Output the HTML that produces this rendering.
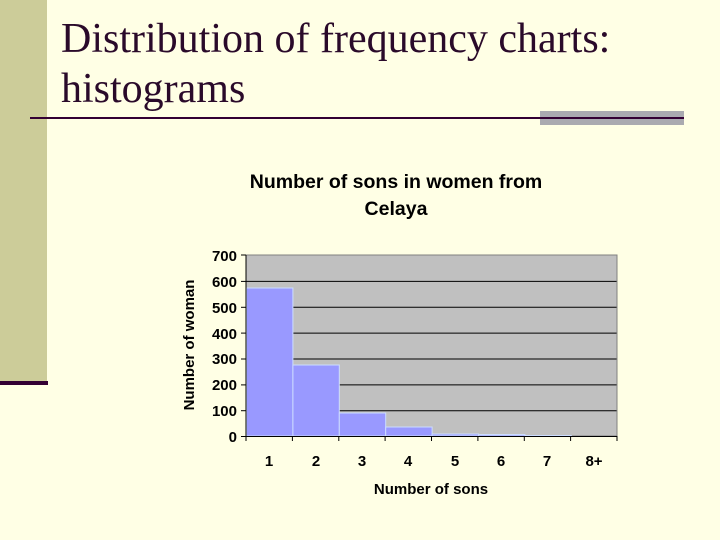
<!DOCTYPE html>
<html><head><style>
body{margin:0;width:720px;height:540px;background:#ffffe5;position:relative;overflow:hidden}
</style></head><body>
<svg width="720" height="540" xmlns="http://www.w3.org/2000/svg" style="position:absolute;left:0;top:0">
<rect x="0" y="0" width="720" height="540" fill="#ffffe5"/>
<rect x="0" y="0" width="47" height="381" fill="#cccc99"/>
<rect x="0" y="381" width="48" height="4" fill="#330033"/>
<rect x="540" y="111" width="144" height="14" fill="#aaaab0"/>
<rect x="30" y="117" width="654" height="2" fill="#330033"/>
<text x="61" y="52" font-family="Liberation Serif, serif" font-size="42" fill="#2a0a2a">Distribution of frequency charts:</text>
<text x="61" y="102" font-family="Liberation Serif, serif" font-size="42" fill="#2a0a2a">histograms</text>
<g font-family="Liberation Sans, sans-serif" font-weight="bold" fill="#000">
<text x="396" y="188" font-size="19.5" text-anchor="middle">Number of sons in women from</text>
<text x="396" y="215" font-size="19.5" text-anchor="middle">Celaya</text>
</g>
<rect x="246" y="255" width="371" height="181" fill="#c0c0c0"/>
<g stroke="#000" stroke-width="1">
<line x1="246" x2="617" y1="281.4" y2="281.4"/>
<line x1="246" x2="617" y1="307.3" y2="307.3"/>
<line x1="246" x2="617" y1="333.1" y2="333.1"/>
<line x1="246" x2="617" y1="359" y2="359"/>
<line x1="246" x2="617" y1="384.9" y2="384.9"/>
<line x1="246" x2="617" y1="410.7" y2="410.7"/>
</g>
<rect x="246" y="255" width="371" height="181" fill="none" stroke="#808080" stroke-width="1"/>
<g fill="#9999ff" stroke="#ccddff" stroke-width="1">
<rect x="246.5" y="288" width="46.4" height="148"/>
<rect x="292.9" y="365" width="46.4" height="71"/>
<rect x="339.3" y="413" width="46.4" height="23"/>
<rect x="385.7" y="427" width="46.4" height="9"/>
<rect x="432.1" y="434" width="46.4" height="2"/>
<rect x="478.5" y="434.5" width="46.4" height="1.5"/>
<rect x="524.9" y="435.5" width="46.4" height="0.5"/>
</g>
<g stroke="#000" stroke-width="1">
<line x1="246" x2="246" y1="255" y2="436"/>
<line x1="246" x2="617" y1="436.5" y2="436.5"/>
<line x1="241" x2="246" y1="255" y2="255"/>
<line x1="241" x2="246" y1="281.4" y2="281.4"/>
<line x1="241" x2="246" y1="307.3" y2="307.3"/>
<line x1="241" x2="246" y1="333.1" y2="333.1"/>
<line x1="241" x2="246" y1="359" y2="359"/>
<line x1="241" x2="246" y1="384.9" y2="384.9"/>
<line x1="241" x2="246" y1="410.7" y2="410.7"/>
<line x1="241" x2="246" y1="436.5" y2="436.5"/>
<line x1="246" x2="246" y1="436" y2="441"/>
<line x1="292.4" x2="292.4" y1="436" y2="441"/>
<line x1="338.8" x2="338.8" y1="436" y2="441"/>
<line x1="385.1" x2="385.1" y1="436" y2="441"/>
<line x1="431.5" x2="431.5" y1="436" y2="441"/>
<line x1="477.9" x2="477.9" y1="436" y2="441"/>
<line x1="524.3" x2="524.3" y1="436" y2="441"/>
<line x1="570.6" x2="570.6" y1="436" y2="441"/>
<line x1="617" x2="617" y1="436" y2="441"/>
</g>
<g font-family="Liberation Sans, sans-serif" font-weight="bold" font-size="15" fill="#000">
<g text-anchor="end">
<text x="237" y="261">700</text>
<text x="237" y="287">600</text>
<text x="237" y="313">500</text>
<text x="237" y="339">400</text>
<text x="237" y="364">300</text>
<text x="237" y="390">200</text>
<text x="237" y="416">100</text>
<text x="237" y="442">0</text>
</g>
<g text-anchor="middle">
<text x="269" y="466">1</text>
<text x="316" y="466">2</text>
<text x="362" y="466">3</text>
<text x="408" y="466">4</text>
<text x="455" y="466">5</text>
<text x="501" y="466">6</text>
<text x="547" y="466">7</text>
<text x="594" y="466">8+</text>
<text x="431" y="494">Number of sons</text>
<text transform="translate(194,345) rotate(-90)">Number of woman</text>
</g>
</g>
</svg>
</body></html>
